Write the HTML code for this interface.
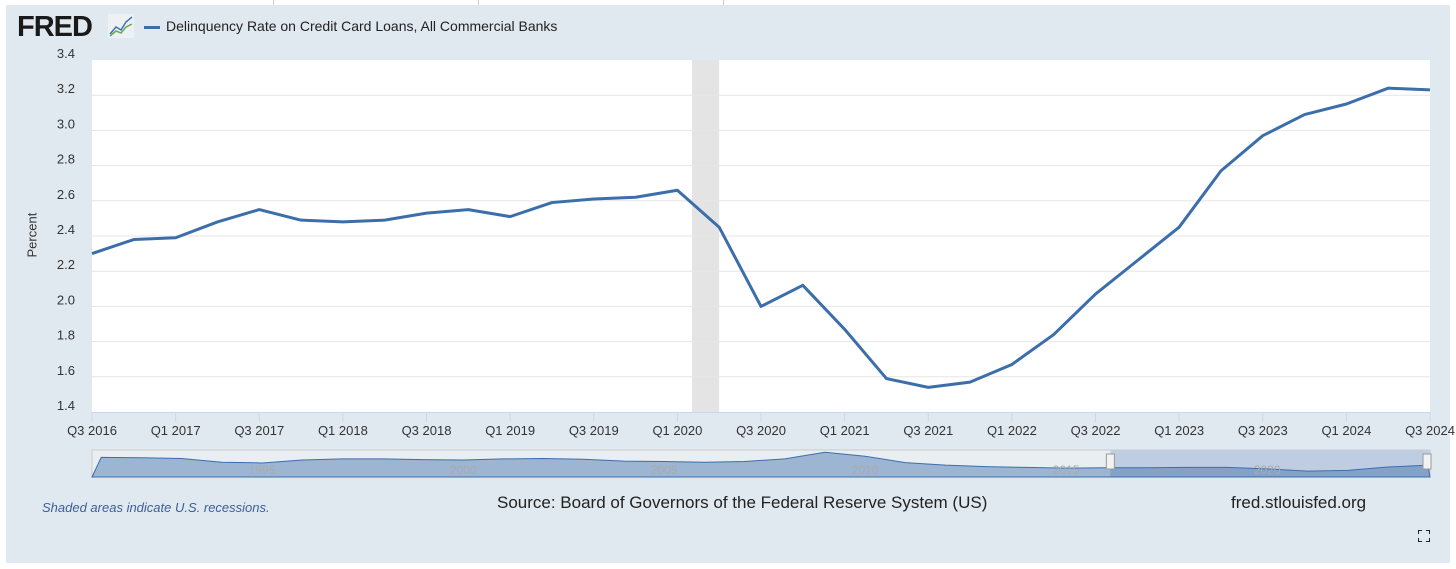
<!DOCTYPE html>
<html><head><meta charset="utf-8"><style>
body{margin:0;width:1456px;height:569px;background:#fff;font-family:"Liberation Sans",sans-serif;overflow:hidden;position:relative}
#panel{position:absolute;left:6px;top:5px;width:1444px;height:558px;background:#e1e9f0}
.t{position:absolute;white-space:nowrap}
</style></head><body>
<div style="position:absolute;left:273px;top:0;width:1px;height:5px;background:#ccc"></div>
<div style="position:absolute;left:478px;top:0;width:1px;height:5px;background:#ccc"></div>
<div style="position:absolute;left:723px;top:0;width:1px;height:5px;background:#ccc"></div>
<div id="panel"></div>
<div class="t" style="left:17px;top:11px;font-size:29px;font-weight:900;letter-spacing:-1px;color:#1a1a1a">FRED</div>
<svg style="position:absolute;left:108px;top:14px" width="26" height="24"><rect width="26" height="24" fill="#eef1f3"/><polyline points="2,20 8,13 13,16 18,8 24,3" fill="none" stroke="#3b73b9" stroke-width="1.5"/><polyline points="2,22 8,17 13,19 18,13 24,10" fill="none" stroke="#6aa84f" stroke-width="1.5"/></svg>
<div style="position:absolute;left:144px;top:26px;width:16px;height:3px;background:#3c6eab"></div>
<div class="t" style="left:166px;top:18px;font-size:14px;color:#222">Delinquency Rate on Credit Card Loans, All Commercial Banks</div>
<svg id="chart" style="position:absolute;left:0;top:0" width="1456" height="569"></svg>
<div class="t" style="left:12px;top:230px;font-size:13px;color:#333;transform:rotate(-90deg);transform-origin:center;width:40px;text-align:center">Percent</div>
<div class="t" style="left:42px;top:500px;font-size:13px;font-style:italic;color:#3c5e9a">Shaded areas indicate U.S. recessions.</div>
<div class="t" style="left:497px;top:493px;font-size:17px;color:#222">Source: Board of Governors of the Federal Reserve System (US)</div>
<div class="t" style="left:1231px;top:493px;font-size:17px;color:#222">fred.stlouisfed.org</div>
<svg style="position:absolute;left:1418px;top:530px" width="12" height="12"><path d="M0,4V0H4M8,0H12V4M12,8V12H8M4,12H0V8" fill="none" stroke="#222" stroke-width="2"/></svg>
<script>
const categories=["Q3 2016","Q4 2016","Q1 2017","Q2 2017","Q3 2017","Q4 2017","Q1 2018","Q2 2018","Q3 2018","Q4 2018","Q1 2019","Q2 2019","Q3 2019","Q4 2019","Q1 2020","Q2 2020","Q3 2020","Q4 2020","Q1 2021","Q2 2021","Q3 2021","Q4 2021","Q1 2022","Q2 2022","Q3 2022","Q4 2022","Q1 2023","Q2 2023","Q3 2023","Q4 2023","Q1 2024","Q2 2024","Q3 2024"];
const values=[2.30,2.38,2.39,2.48,2.55,2.49,2.48,2.49,2.53,2.55,2.51,2.59,2.61,2.62,2.66,2.45,2.00,2.12,1.87,1.59,1.54,1.57,1.67,1.84,2.07,2.26,2.45,2.77,2.97,3.09,3.15,3.24,3.23];
const yTicks=[1.4,1.6,1.8,2.0,2.2,2.4,2.6,2.8,3.0,3.2,3.4];
const recession=[14.35,15.0];
const navYears=["1995","2000","2005","2010","2015","2020"];
const navYearPos=[1995,2000,2005,2010,2015,2020];
const navYearsData=[1991,1992,1993,1994,1995,1996,1997,1998,1999,2000,2001,2002,2003,2004,2005,2006,2007,2008,2009,2010,2011,2012,2013,2014,2015,2016,2017,2018,2019,2020,2021,2022,2023,2024];
const navValues=[5.3,5.2,5.0,4.0,3.8,4.6,4.9,4.9,4.7,4.6,4.9,5.0,4.8,4.3,4.2,4.0,4.2,4.9,6.7,5.6,3.9,3.2,2.8,2.6,2.4,2.5,2.5,2.6,2.6,2.2,1.6,1.8,2.7,3.2];
const navStart=1990.77,navEnd=2024.05;
const svg=document.getElementById('chart');const NS='http://www.w3.org/2000/svg';
const L=92,R=1430,T=60,B=412;
const x=i=>L+(R-L)*i/(categories.length-1);
const y=v=>B-(v-1.4)/(3.4-1.4)*(B-T);
function el(tag,a){const e=document.createElementNS(NS,tag);for(const k in a)e.setAttribute(k,a[k]);svg.appendChild(e);return e;}
const bg=el('rect',{x:L,y:T,width:R-L,height:B-T,fill:'#fff'});


const rec=el('rect',{x:x(recession[0]),y:T,width:x(recession[1])-x(recession[0]),height:B-T,fill:'#e4e4e4'});


yTicks.forEach(v=>{
 if(v>1.4&&v<3.4){const g=el('line',{x1:L,x2:R,y1:y(v),y2:y(v),stroke:'#e6e6e6'});
 
 }
 const t=el('text',{x:75,y:y(v)-2,'text-anchor':'end','font-size':13,fill:'#333','font-family':'Liberation Sans'});
 
 
 t.textContent=v.toFixed(1);
});
const ax=el('line',{x1:L,x2:R,y1:B+0.5,y2:B+0.5,stroke:'#ccd6eb'});


categories.forEach((c,i)=>{if(i%2)return;
 const tk=el('line',{x1:x(i),x2:x(i),y1:B,y2:B+10,stroke:'#ccd6eb'});
 
 
 const t=el('text',{x:x(i),y:B+23,'text-anchor':'middle','font-size':13,fill:'#333','font-family':'Liberation Sans'});
 
 
 t.textContent=c;});
const line=el('polyline',{points:values.map((v,i)=>x(i)+','+y(v)).join(' '),fill:'none',stroke:'#3c6eab','stroke-width':3,'stroke-linejoin':'round'});


// navigator
const NT=450,NB=477;
const nx=yr=>L+(R-L)*(yr-navStart)/(navEnd-navStart);
const ny=v=>NB-v*3.7;
const nbg=el('rect',{x:L,y:NT,width:R-L,height:NB-NT,fill:'#e9eef3',stroke:'#ccc'});


const selX=nx(2016.1);
const sel=el('rect',{x:selX,y:NT,width:R-selX,height:NB-NT,fill:'#bfcde2'});


const pts=navValues.map((v,i)=>Math.max(L,Math.min(R,nx(navYearsData[i])))+','+ny(v));
const area=el('polygon',{points:L+','+NB+' '+pts.join(' ')+' '+R+','+NB,fill:'rgba(60,110,171,0.45)',stroke:'#3c6eab','stroke-width':1});


navYears.forEach((s,i)=>{const t=el('text',{x:nx(navYearPos[i]),y:NB-3,'text-anchor':'middle','font-size':12,fill:'#aaa','font-family':'Liberation Sans'});
 
 
 t.textContent=s;});
[selX,R-3].forEach(hx=>{const h=el('rect',{x:hx-4,y:NT+4,width:8,height:15,fill:'#f2f2f2',stroke:'#999'});
 
 });
</script>
</body></html>
